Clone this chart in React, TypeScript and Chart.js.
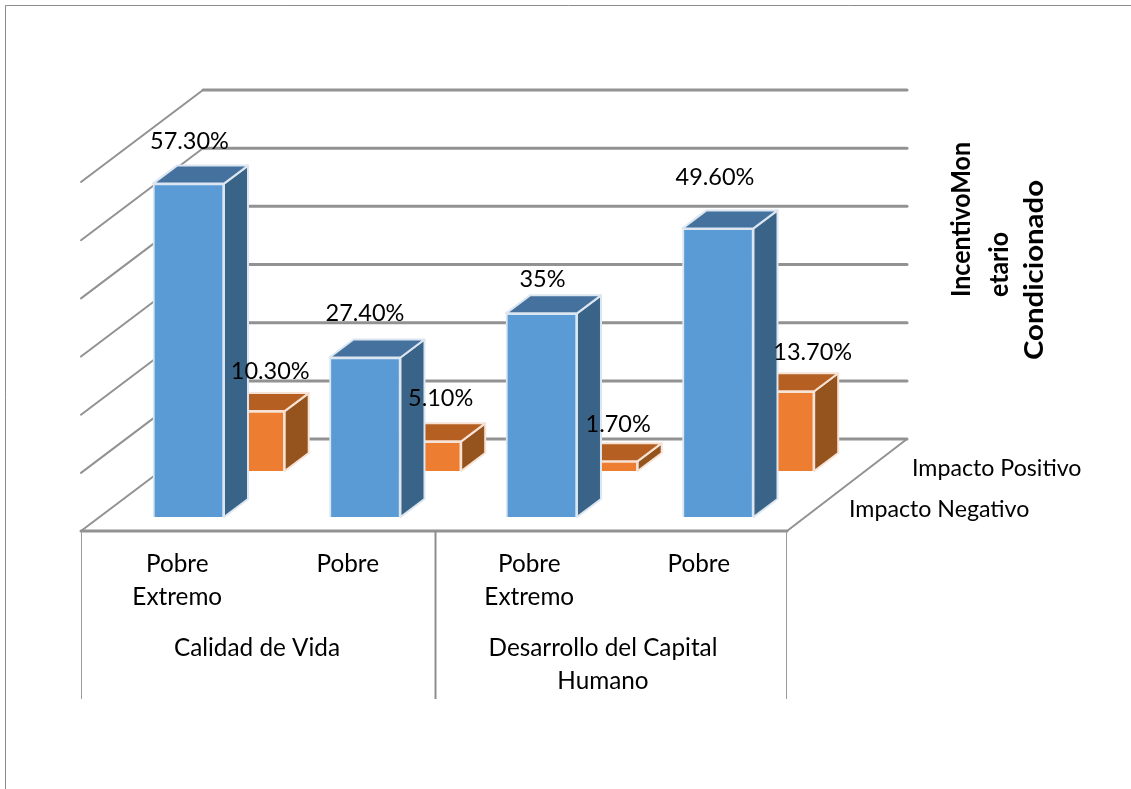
import React, { useEffect, useRef } from "react";
import { Chart, registerables } from "chart.js";

Chart.register(...registerables);

const categories = [["Pobre", "Extremo"], ["Pobre"], ["Pobre", "Extremo"], ["Pobre"]];
const groups = [["Calidad de Vida"], ["Desarrollo del Capital", "Humano"]];
const seriesNames = ["Impacto Negativo", "Impacto Positivo"];
const impactoNegativo = [57.3, 27.4, 35, 49.6];
const impactoPositivo = [10.3, 5.1, 1.7, 13.7];
const negativoLabels = ["57.30%", "27.40%", "35%", "49.60%"];
const positivoLabels = ["10.30%", "5.10%", "1.70%", "13.70%"];
const gridValues = [0, 10, 20, 30, 40, 50, 60];
const axisTitle = ["IncentivoMon", "etario", "Condicionado"];

const FONT = "Lato, Carlito, sans-serif";
const TEXT = "#000000";
const LINE = "#929292";

// Where the value labels sit relative to the bar's top centre.
const blueNudge = [[1, -42], [0, -44], [1, -34], [-3, -51]];
const orangeNudge = [[21, -40], [15, -43], [16, -37], [34, -39]];
const tickNudge = [8, 2, 7, 0];
const groupCentres = [257, 603];
const titleLines = [
  { x: 970, y: 297, w: 155 },
  { x: 1008, y: 297, w: 65 },
  { x: 1043, y: 360, w: 180 },
];

const faces: any = {
  0: { top: "#44719d", side: "#3a6487", edge: "#dbe6f1" },
  1: { top: "#b55f22", side: "#95531e", edge: "#f7e3d5" },
};

const prism = {
  id: "prism",
  beforeDatasetDraw(chart: any, args: any) {
    const { ctx } = chart;
    const f = faces[args.index];
    const dx = 24;
    const dy = -18;
    args.meta.data.forEach((bar: any) => {
      const l = bar.x - bar.width / 2;
      const r = bar.x + bar.width / 2;
      const t = bar.y;
      const b = bar.base;
      ctx.save();
      ctx.lineWidth = 2;
      ctx.strokeStyle = f.edge;
      ctx.lineJoin = "round";
      ctx.fillStyle = f.side;
      ctx.beginPath();
      ctx.moveTo(r, t);
      ctx.lineTo(r + dx, t + dy);
      ctx.lineTo(r + dx, b + dy);
      ctx.lineTo(r, b);
      ctx.closePath();
      ctx.fill();
      ctx.stroke();
      ctx.fillStyle = f.top;
      ctx.beginPath();
      ctx.moveTo(l, t);
      ctx.lineTo(l + dx, t + dy);
      ctx.lineTo(r + dx, t + dy);
      ctx.lineTo(r, t);
      ctx.closePath();
      ctx.fill();
      ctx.stroke();
      ctx.restore();
    });
  },
};

const frame = {
  id: "frame",
  beforeDatasetsDraw(chart: any) {
    const { ctx, chartArea, scales } = chart;
    const wall = scales.yWall;
    const depthX = 122;
    const depthY = 92;
    const { left, right } = chartArea;
    ctx.save();
    // outer picture border
    ctx.strokeStyle = "#8c8c8c";
    ctx.lineWidth = 1;
    ctx.beginPath();
    ctx.moveTo(1131, 5.5);
    ctx.lineTo(5.5, 5.5);
    ctx.lineTo(5.5, 789);
    ctx.stroke();

    ctx.strokeStyle = LINE;
    ctx.lineCap = "round";
    gridValues.forEach((v) => {
      const y = wall.getPixelForValue(v);
      ctx.lineWidth = 3;
      ctx.beginPath();
      ctx.moveTo(left + depthX, y);
      ctx.lineTo(right + 120, y);
      ctx.stroke();
      ctx.lineWidth = 2;
      ctx.beginPath();
      ctx.moveTo(left + depthX, y);
      ctx.lineTo(left, y + depthY);
      ctx.stroke();
    });
    const y0 = wall.getPixelForValue(0);
    ctx.lineWidth = 3;
    ctx.beginPath();
    ctx.moveTo(left, y0 + depthY);
    ctx.lineTo(right, y0 + depthY);
    ctx.stroke();
    ctx.lineWidth = 2;
    ctx.beginPath();
    ctx.moveTo(right, y0 + depthY);
    ctx.lineTo(right + 120, y0);
    ctx.stroke();

    // multi-level category dividers
    const bottom = y0 + depthY;
    ctx.lineCap = "butt";
    ctx.lineWidth = 1;
    ctx.strokeStyle = "#9a9a9a";
    [left + 0.5, right - 0.5].forEach((x) => {
      ctx.beginPath();
      ctx.moveTo(x, bottom);
      ctx.lineTo(x, 699);
      ctx.stroke();
    });
    ctx.lineWidth = 2;
    ctx.strokeStyle = "#8e8e8e";
    ctx.beginPath();
    ctx.moveTo(435.5, bottom);
    ctx.lineTo(435.5, 699);
    ctx.stroke();
    ctx.restore();
  },
};

const texts = {
  id: "texts",
  afterDatasetsDraw(chart: any) {
    const { ctx, scales } = chart;
    ctx.save();
    ctx.fillStyle = TEXT;
    ctx.textAlign = "center";
    ctx.textBaseline = "middle";
    ctx.font = `23.5px ${FONT}`;

    [
      { labels: negativoLabels, nudge: blueNudge, i: 0 },
      { labels: positivoLabels, nudge: orangeNudge, i: 1 },
    ].forEach(({ labels, nudge, i }) => {
      chart.getDatasetMeta(i).data.forEach((bar: any, k: number) => {
        ctx.fillText(labels[k], bar.x + nudge[k][0], bar.y + nudge[k][1]);
      });
    });

    ctx.font = `24.3px ${FONT}`;
    categories.forEach((lines, i) => {
      const x = scales.x.getPixelForValue(i) + tickNudge[i];
      lines.forEach((s, j) => ctx.fillText(s, x, 564 + j * 33));
    });
    groups.forEach((lines, i) => {
      lines.forEach((s, j) => ctx.fillText(s, groupCentres[i], 648 + j * 33));
    });

    ctx.font = `23.2px ${FONT}`;
    ctx.textAlign = "left";
    ctx.fillText(seriesNames[0], 849, 510);
    ctx.fillText(seriesNames[1], 912, 469);

    ctx.font = `bold 26px ${FONT}`;
    ctx.textBaseline = "alphabetic";
    titleLines.forEach((line, i) => {
      ctx.save();
      ctx.translate(line.x, line.y);
      ctx.rotate(-Math.PI / 2);
      ctx.scale(line.w / ctx.measureText(axisTitle[i]).width, 1);
      ctx.fillText(axisTitle[i], 0, 0);
      ctx.restore();
    });
    ctx.restore();
  },
};

export default function App() {
  const ref = useRef<HTMLCanvasElement>(null);
  useEffect(() => {
    const chart = new Chart(ref.current as HTMLCanvasElement, {
      type: "bar",
      data: {
        labels: categories.map((c) => c.join(" ")),
        datasets: [
          {
            label: seriesNames[0],
            data: impactoNegativo.map((y, x) => ({ x, y })),
            xAxisID: "xBlue",
            yAxisID: "yBlue",
            backgroundColor: "#5b9bd5",
            borderColor: faces[0].edge,
            borderWidth: 2,
            barThickness: 71,
            grouped: false,
            clip: false,
          },
          {
            label: seriesNames[1],
            data: impactoPositivo.map((y, x) => ({ x, y })),
            xAxisID: "xOrange",
            yAxisID: "yOrange",
            backgroundColor: "#ed7d31",
            borderColor: faces[1].edge,
            borderWidth: 2,
            barThickness: 71,
            grouped: false,
            clip: false,
          },
        ] as any,
      },
      options: {
        responsive: false,
        animation: false,
        devicePixelRatio: 1,
        layout: { padding: { left: 81, right: 344, top: 90, bottom: 258 } },
        plugins: { legend: { display: false }, tooltip: { enabled: false } },
        scales: {
          x: { type: "category", display: false },
          xBlue: { type: "linear", axis: "x", display: false, offset: false, min: -0.609, max: 3.391 },
          xOrange: { type: "linear", axis: "x", display: false, offset: false, min: -0.953, max: 3.047 },
          yWall: { type: "linear", axis: "y", display: false, min: -15.8, max: 60 },
          yBlue: { type: "linear", axis: "y", display: false, min: -2.41, max: 73.39 },
          yOrange: { type: "linear", axis: "y", display: false, min: -10.31, max: 65.49 },
        } as any,
      },
      plugins: [frame, prism, texts],
    });
    return () => chart.destroy();
  }, []);
  return (
    <canvas
      ref={ref}
      width={1131}
      height={789}
      style={{ position: "fixed", left: 0, top: 0, width: 1131, height: 789, background: "#fff" }}
    />
  );
}
